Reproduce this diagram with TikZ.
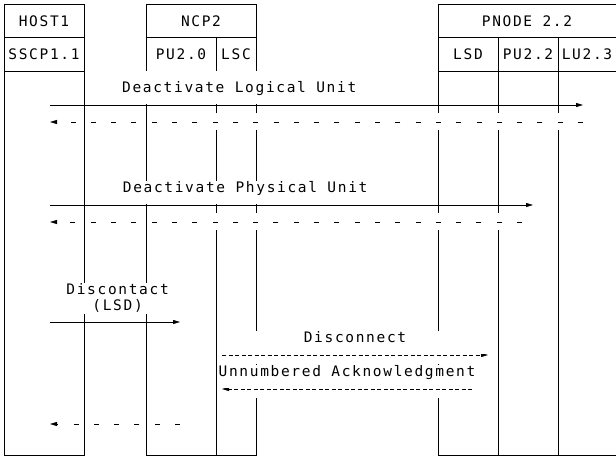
\documentclass[tikz,border=0pt]{standalone}
\usepackage{fontspec}
\newfontfamily\diagfont[LetterSpace=11.5]{DejaVu Sans Mono}
\usetikzlibrary{arrows.meta, positioning, calc}

\begin{document}
\begin{tikzpicture}[x=1pt, y=-1pt, >={Triangle[length=7pt,width=4pt]}, line width=0.8pt,
  every node/.style={font=\diagfont\fontsize{14.5pt}{16pt}\selectfont},
  cell/.style={draw, inner sep=0pt, outer sep=0pt, minimum height=33.5pt},
  msg/.style={fill=white, inner xsep=1pt, inner ysep=0pt, text height=12pt, text depth=11.5pt},
  note/.style={fill=white, inner sep=1pt, align=center},
  reply/.style={dash pattern=on 5pt off 15.3pt, preaction={draw=white, solid, line width=17pt}},
  fine/.style={dash pattern=on 4pt off 2.5pt, preaction={draw=white, solid, line width=17pt}}]
  \useasboundingbox (0,0) rectangle (616,457);
  \node[cell, minimum width=80pt, anchor=north west] (host) at (4,4) {HOST1};
  \node[cell, minimum width=80pt, anchor=north west] (sscp) at (host.south west) {SSCP1.1};
  \node[cell, minimum width=110pt, anchor=north west] (ncp) at (146,4) {NCP2};
  \node[cell, minimum width=70pt, anchor=north west] (pu20) at (ncp.south west) {PU2.0};
  \node[cell, minimum width=40pt, anchor=north west] (lsc) at (pu20.north east) {LSC};
  \node[cell, minimum width=178pt, anchor=north west] (pnode) at (438,4) {PNODE 2.2};
  \node[cell, minimum width=60pt, anchor=north west] (lsd) at (pnode.south west) {LSD};
  \node[cell, minimum width=60pt, anchor=north west] (pu22) at (lsd.north east) {PU2.2};
  \node[cell, minimum width=58pt, anchor=north west] (lu23) at (pu22.north east) {LU2.3};
  \coordinate (bot) at (0,455);
  \draw (pu20.south east) -- (pu20.south east |- bot);
  \draw (lsc.south east) -- (lsc.south east |- bot) -- (pu20.south west |- bot);
  \draw (lsd.south west) |- (lu23.south east |- bot) -- (lu23.south east);
  \draw (lsd.south east) -- (lsd.south east |- bot);
  \draw (pu22.south east) -- (pu22.south east |- bot);
  \coordinate (dlu-l) at (50,105);  \coordinate (dlu-r) at (583,105);
  \coordinate (dlr-l) at (50,122);  \coordinate (dlr-r) at (583,122);
  \coordinate (dpu-l) at (50,205);  \coordinate (dpu-r) at (533,205);
  \coordinate (dpr-l) at (50,222);  \coordinate (dpr-r) at (522,222);
  \coordinate (dsc-l) at (50,322);  \coordinate (dsc-r) at (180,322);
  \coordinate (dsr-l) at (50,424);  \coordinate (dsr-r) at (180,424);
  \coordinate (disc-l) at (222,355); \coordinate (disc-r) at (488,355);
  \coordinate (ua-l) at (222,389);  \coordinate (ua-r) at (472,389);
  \draw[reply,->] (dlr-r) -- (dlr-l);
  \draw[reply,->] (dpr-r) -- (dpr-l);
  \draw[reply,->] (dsr-r) -- (dsr-l);
  \draw[fine,->] (disc-l) -- (disc-r) node[msg, midway, above=0.5pt, minimum width=266pt] {Disconnect};
  \draw[fine,->] (ua-r) -- (ua-l) node[msg, midway, above=0.5pt, minimum width=250pt] {Unnumbered Acknowledgment};
  \draw (sscp.south west) |- (sscp.south east |- bot) -- (sscp.south east);
  \draw (pu20.south west) -- (pu20.south west |- bot);
  \draw[->] (dlu-l) -- (dlu-r) node[msg, pos=0.355, above=0.5pt, text height=22pt] {Deactivate Logical Unit};
  \draw[->] (dpu-l) -- (dpu-r) node[msg, pos=0.404, above=0.5pt] {Deactivate Physical Unit};
  \draw[->] (dsc-l) -- (dsc-r) node[note, pos=0.52, above=8pt] {Discontact\\(LSD)};
\end{tikzpicture}
\end{document}
